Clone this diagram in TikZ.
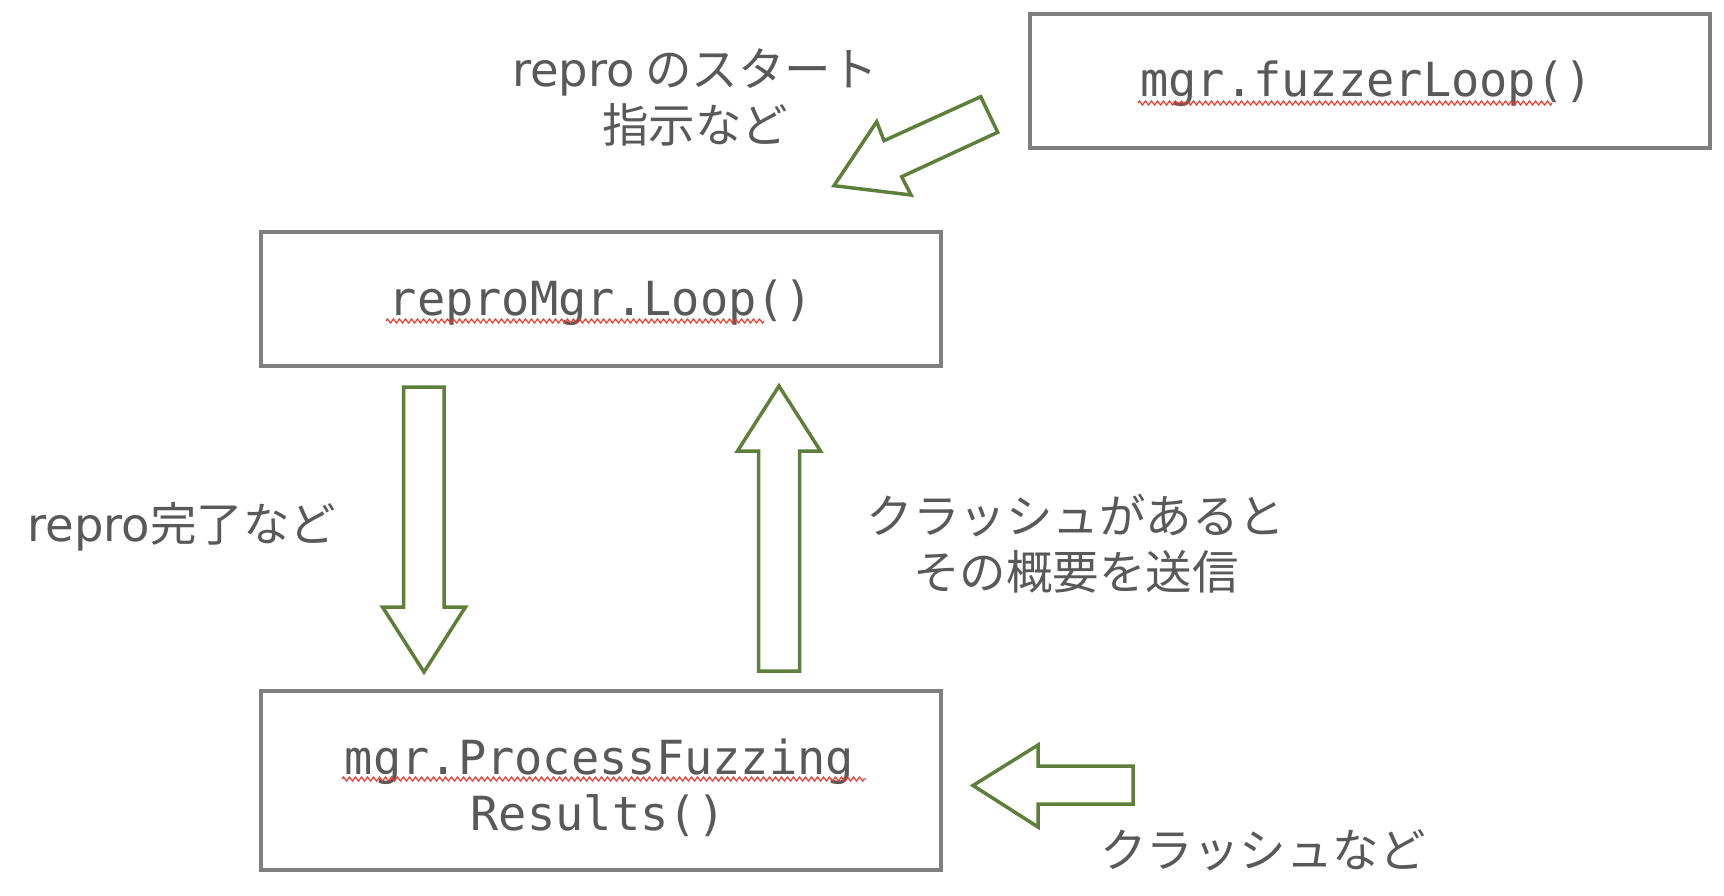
\documentclass[tikz,border=0pt]{standalone}
\usepackage{fontspec}
\newfontfamily\jpfont{Noto Sans CJK JP}
\newfontfamily\latfont{DejaVu Sans}
\newfontfamily\codefont{DejaVu Sans Mono}
\usetikzlibrary{decorations.pathmorphing}
\definecolor{boxgray}{HTML}{7F7F7F}
\definecolor{textgray}{HTML}{595959}
\definecolor{arrowgreen}{HTML}{5E7F3B}
\definecolor{spellred}{HTML}{E53A2F}
\newcommand{\repro}{{\latfont repro}}
\tikzset{
	box/.style={draw=boxgray,line width=3.2pt,minimum width=680pt,minimum height=134pt,inner sep=0pt},
	codelbl/.style={font=\codefont\fontsize{47}{56}\selectfont,text=textgray,inner sep=0pt,anchor=base},
	jplbl/.style={font=\jpfont\fontsize{46.5}{56}\selectfont,text=textgray,inner sep=0pt,align=center},
	blockarrow/.style={draw=arrowgreen,line width=3.5pt,line join=miter},
	squiggle/.style={draw=spellred,line width=1.2pt,decorate,decoration={zigzag,segment length=6pt,amplitude=2pt}},
}
\begin{document}
\begin{tikzpicture}[x=1pt,y=-1pt]
		\useasboundingbox (0,0) rectangle (1724,896);
		\node[box] (fuzzer) at (1370,81) {};
		\node[box] (repro) at (601,299) {};
		\node[box,minimum height=179pt] (process) at (601,780.5) {};
		\node[codelbl] (fuzzerlbl) at (1366.5,97) {mgr.fuzzerLoop()};
		\node[codelbl] (reprolbl) at (601,315) {reproMgr.Loop()};
		\node[codelbl] (processlbl) at (599.5,774) {mgr.ProcessFuzzing};
		\node[codelbl] (resultslbl) at (598,830) {Results()};
		\draw[squiggle] (1138,103) -- (1552,103);
		\draw[squiggle] (386,321) -- (764,321);
		\draw[squiggle] (342,779) -- (866,779);
		\draw[blockarrow] (980.7,96.7) -- (997.7,132.3) -- (901.7,176.7) -- (911,195) -- (834,185.7) -- (876.7,121.7) -- (884,140.7) -- cycle;
		\draw[blockarrow] (403.5,387) -- (444,387) -- (444,607) -- (465.5,607) -- (424,672) -- (382.5,607) -- (403.5,607) -- cycle;
		\draw[blockarrow] (758.5,671) -- (799.5,671) -- (799.5,451) -- (820.5,451) -- (779,386) -- (737.5,451) -- (758.5,451) -- cycle;
		\draw[blockarrow] (1133,766) -- (1133,804) -- (1038,804) -- (1038,827) -- (973,785.5) -- (1038,745) -- (1038,766) -- cycle;
		\node[jplbl] (startlbl) at (695,97.5) {\repro{} のスタート\\指示など};
		\node[jplbl] (donelbl) at (182,527) {\repro 完了など};
		\node[jplbl] (crashinfolbl) at (1076,543.5) {クラッシュがあると\\その概要を送信};
		\node[jplbl] (crashlbl) at (1263,850) {クラッシュなど};
	\end{tikzpicture}
\end{document}
